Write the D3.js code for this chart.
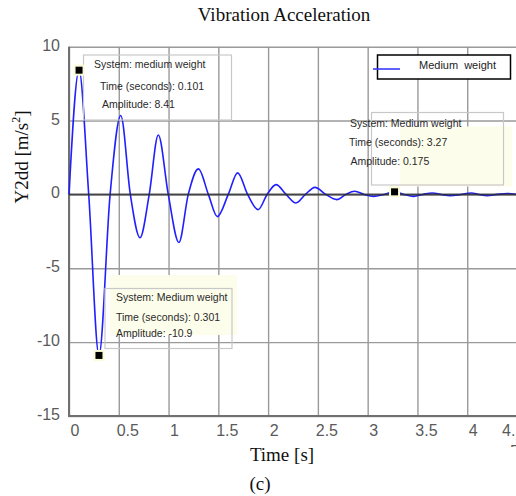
<!DOCTYPE html>
<html><head><meta charset="utf-8">
<script src="https://cdn.jsdelivr.net/npm/d3@7"></script>
<style>
html,body{margin:0;padding:0;background:#fff;}
svg{display:block;}
</style></head>
<body>
<svg id="chart" width="516" height="496"></svg>
<script>
// ---- data ----
const timeS = [0, 0.101, 0.198, 0.301, 0.413, 0.52, 0.616, 0.713, 0.806, 0.897, 0.997, 1.104, 1.198, 1.30, 1.40, 1.49, 1.60, 1.694, 1.794, 1.90, 1.99, 2.08, 2.18, 2.28, 2.375, 2.47, 2.58, 2.69, 2.78, 2.87, 2.965, 3.06, 3.165, 3.27, 3.365, 3.46, 3.555, 3.65, 3.74, 3.83, 3.935, 4.04, 4.12, 4.2, 4.3, 4.4, 4.5];
const accel = [0, 8.41, 0, -10.9, 0, 5.34, 0, -2.93, 0, 4.02, 0, -3.25, 0, 1.73, 0, -1.50, 0, 1.46, 0, -1.03, 0, 0.66, 0, -0.58, 0, 0.48, 0, -0.35, 0, 0.21, 0, -0.13, 0, 0.175, 0, -0.13, 0, 0.10, 0, -0.08, 0, 0.10, 0, -0.08, 0, 0.06, 0];
const xTicks = [0, 0.5, 1, 1.5, 2, 2.5, 3, 3.5, 4, 4.5];
const xTickLabels = ["0", "0.5", "1", "1.5", "2", "2.5", "3", "3.5", "4", "4.5"];
const yTicks = [-15, -10, -5, 0, 5, 10];
const yTickLabels = ["-15", "-10", "-5", "0", "5", "10"];
const seriesName = "Medium weight";
const tipTimes = [0.101, 0.301, 3.27];
const tipValues = [8.41, -10.9, 0.175];

// ---- layout ----
const svg = d3.select("#chart");
const x = d3.scaleLinear().domain([0, 4.5]).range([69, 517]);
const y = d3.scaleLinear().domain([-15, 10]).range([416, 46.7]);
const plotLeft = 69, plotRight = 517, plotTop = 46.7, plotBottom = 416;

// gridlines
const gx = svg.append("g").attr("transform", `translate(0,${plotBottom})`)
  .call(d3.axisBottom(x).tickValues(xTicks).tickSize(-(plotBottom - plotTop)).tickFormat(""));
gx.select(".domain").remove();
gx.selectAll("line").attr("stroke", "#9a9a9a").attr("stroke-width", 1.4);

const gy = svg.append("g").attr("transform", `translate(${plotLeft},0)`)
  .call(d3.axisLeft(y).tickValues(yTicks).tickSize(-(plotRight - plotLeft)).tickFormat(""));
gy.select(".domain").remove();
gy.selectAll("line").attr("stroke", "#9a9a9a").attr("stroke-width", 1.4);

// axis frame lines
svg.append("line").attr("x1", plotLeft).attr("x2", plotLeft).attr("y1", plotTop).attr("y2", plotBottom)
  .attr("stroke", "#707070").attr("stroke-width", 2);
svg.append("line").attr("x1", plotLeft - 1).attr("x2", 516).attr("y1", plotBottom).attr("y2", plotBottom)
  .attr("stroke", "#707070").attr("stroke-width", 2);

// tick labels
const tickFont = "'Liberation Sans', Arial, sans-serif";
svg.append("g").selectAll("text").data(xTicks.slice(0, -1)).join("text")
  .attr("x", (d, i) => x(d) + (xTickLabels[i].length > 1 ? 9 : 6))
  .attr("y", 436)
  .attr("text-anchor", "middle")
  .attr("font-family", tickFont).attr("font-size", 16).attr("fill", "#5a5a5a")
  .text((d, i) => xTickLabels[i]);
// last label "4.5" wraps at the window edge: "4." then the top of "5" below
const lastLabel = xTickLabels[xTickLabels.length - 1];
svg.append("text").attr("x", x(4.5) - 15).attr("y", 436)
  .attr("font-family", tickFont).attr("font-size", 16).attr("fill", "#5a5a5a").text(lastLabel.slice(0, 2));
svg.append("clipPath").attr("id", "clip5").append("rect").attr("x", 500).attr("y", 440).attr("width", 20).attr("height", 7);
svg.append("text").attr("clip-path", "url(#clip5)").attr("x", x(4.5) - 7).attr("y", 457)
  .attr("font-family", tickFont).attr("font-size", 16).attr("fill", "#5a5a5a").text(lastLabel.slice(2));

svg.append("g").selectAll("text").data(yTicks).join("text")
  .attr("x", 60)
  .attr("y", d => y(d) + 4)
  .attr("text-anchor", "end")
  .attr("font-family", tickFont).attr("font-size", 16).attr("fill", "#5a5a5a")
  .text((d, i) => yTickLabels[i]);

// titles
const serif = "'Liberation Serif', 'Times New Roman', serif";
svg.append("text").attr("x", 284).attr("y", 21).attr("text-anchor", "middle")
  .attr("font-family", serif).attr("font-size", 19).attr("fill", "#111").text("Vibration Acceleration");
svg.append("text").attr("x", 282).attr("y", 461).attr("text-anchor", "middle")
  .attr("font-family", serif).attr("font-size", 19).attr("fill", "#111").text("Time [s]");
svg.append("text").attr("x", 260).attr("y", 490).attr("text-anchor", "middle")
  .attr("font-family", serif).attr("font-size", 19).attr("fill", "#111").text("(c)");
const yl = svg.append("text").attr("transform", "translate(28,157) rotate(-90)").attr("text-anchor", "middle")
  .attr("font-family", serif).attr("font-size", 19).attr("fill", "#111");
yl.append("tspan").text("Y2dd [m/s");
yl.append("tspan").attr("font-size", 12).attr("dy", -8).text("2");
yl.append("tspan").attr("dy", 8).text("]");

// curve
const pts = timeS.map((t, i) => [t, accel[i]]);
const line = d3.line().x(d => x(d[0])).y(d => y(d[1])).curve(d3.curveMonotoneX);
svg.append("path").datum(pts).attr("d", line).attr("fill", "none")
  .attr("stroke", "#2020ff").attr("stroke-width", 1.6);

// zero line
svg.append("line").attr("x1", plotLeft).attr("x2", 516).attr("y1", y(0)).attr("y2", y(0))
  .attr("stroke", "#2a2a2a").attr("stroke-width", 2).attr("opacity", 0.8);

// legend
const leg = svg.append("g");
leg.append("rect").attr("x", 377.5).attr("y", 55).attr("width", 133).attr("height", 24)
  .attr("fill", "#fff").attr("stroke", "#000").attr("stroke-width", 1.5);
leg.append("line").attr("x1", 373).attr("x2", 400).attr("y1", 69).attr("y2", 69)
  .attr("stroke", "#3a3aff").attr("stroke-width", 1.6);
leg.append("text").attr("x", 419).attr("y", 69).attr("font-family", tickFont).attr("font-size", 11)
  .attr("fill", "#222").attr("word-spacing", 3).text(seriesName);

// data tips
function tipText(g, x0, y0, lines, xs) {
  lines.forEach((s, i) => {
    g.append("text").attr("x", x0 + (xs ? xs[i] : 0)).attr("y", y0[i]).attr("font-family", tickFont)
      .attr("font-size", 10.5).attr("fill", "#2a2a2a").text(s);
  });
}
// tip 1
const t1 = svg.append("g");
t1.append("rect").attr("x", 83.5).attr("y", 55).attr("width", 148).attr("height", 65)
  .attr("fill", "none").attr("stroke", "#c8c8c8").attr("stroke-width", 1.2);
tipText(t1, 94, [68, 90, 108], ["System: medium weight", "Time (seconds): " + tipTimes[0], "Amplitude: " + tipValues[0]], [0, 6, 8]);
// tip 2
const t2 = svg.append("g");
t2.append("rect").attr("x", 110).attr("y", 275).attr("width", 127).attr("height", 60).attr("fill", "#fdfdec");
t2.append("rect").attr("x", 105).attr("y", 288.5).attr("width", 127).attr("height", 60)
  .attr("fill", "none").attr("stroke", "#c8c8c8").attr("stroke-width", 1.2);
tipText(t2, 116, [300.5, 320.5, 337], ["System: Medium weight", "Time (seconds): " + tipTimes[1], "Amplitude: " + tipValues[1]]);
// tip 3
const t3 = svg.append("g");
t3.append("rect").attr("x", 400).attr("y", 126.5).attr("width", 112).attr("height", 60).attr("fill", "#fdfdec");
t3.append("rect").attr("x", 371.5).attr("y", 112.5).attr("width", 132).attr("height", 72.5)
  .attr("fill", "none").attr("stroke", "#c8c8c8").attr("stroke-width", 1.2);
tipText(t3, 350, [127, 146, 164.5], ["System: Medium weight", "Time (seconds): " + tipTimes[2], "Amplitude: " + tipValues[2]], [0, -1, 0.5]);

// markers
const mk = svg.append("g").selectAll("g").data(tipTimes.map((t, i) => [t, tipValues[i]])).join("g");
mk.append("rect").attr("x", d => x(d[0]) - 5.5).attr("y", d => y(d[1]) - 5.5).attr("width", 11).attr("height", 11)
  .attr("fill", "#fbfbd8");
mk.append("rect").attr("x", d => x(d[0]) - 3.5).attr("y", d => y(d[1]) - 3.5).attr("width", 7).attr("height", 7)
  .attr("fill", "#000");
</script>
</body></html>
